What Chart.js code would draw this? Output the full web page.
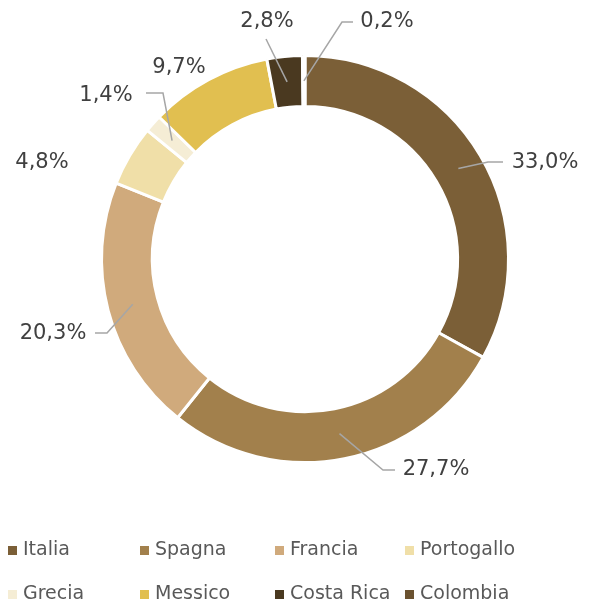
<!DOCTYPE html>
<html>
<head>
<meta charset="utf-8">
<script src="https://cdn.jsdelivr.net/npm/chart.js@4/dist/chart.umd.min.js"></script>
<style>
  html, body { margin: 0; padding: 0; background: #fff; }
  canvas { display: block; }
</style>
</head>
<body>
<canvas id="chart" width="605" height="605"></canvas>
<script>
// data
const countries = ["Italia", "Spagna", "Francia", "Portogallo", "Grecia", "Messico", "Costa Rica", "Colombia"];
const shares = [33.0, 27.7, 20.3, 4.8, 1.4, 9.7, 2.8, 0.2];
const colors = ["#7b5f37", "#a2804c", "#d0aa7c", "#f0dfa8", "#f5edd5", "#e1bf50", "#4a3920", "#6b5230"];

// where each percentage label sits, relative to the doughnut centre
// path = elbow points of the leader line (empty = no line)
const labelPlace = [
  { tx: 240, ty: -96, path: [[183, -97], [198, -97]] },
  { tx: 131, ty: 211, path: [[78, 211], [90, 211]] },
  { tx: -252, ty: 75, path: [[-198, 74], [-210, 74]] },
  { tx: -263, ty: -96, path: [] },
  { tx: -199, ty: -163, path: [[-142, -166], [-159, -166]] },
  { tx: -126, ty: -191, path: [] },
  { tx: -38, ty: -237, path: [[-39, -220]] },
  { tx: 82, ty: -237, path: [[37, -237], [48, -237]] },
];

// legend grid (Excel style, 4 per row)
const legendCols = [8, 140, 275, 405];
const legendRows = [550, 594];

const fmt = (v) => v.toFixed(1).replace(".", ",") + "%";

const labelsPlugin = {
  id: "outerLabels",
  afterDraw(chart) {
    const ctx = chart.ctx;
    const arcs = chart.getDatasetMeta(0).data;
    ctx.save();
    arcs.forEach((arc, i) => {
      const p = arc.getProps(["x", "y", "startAngle", "endAngle", "innerRadius", "outerRadius"], true);
      const mid = (p.startAngle + p.endAngle) / 2;
      const r = (p.innerRadius + p.outerRadius) / 2;
      const place = labelPlace[i];
      if (place.path.length) {
        ctx.beginPath();
        ctx.moveTo(p.x + Math.cos(mid) * r, p.y + Math.sin(mid) * r);
        place.path.forEach(([dx, dy]) => ctx.lineTo(p.x + dx, p.y + dy));
        ctx.strokeStyle = "#a6a6a6";
        ctx.lineWidth = 1.5;
        ctx.stroke();
      }
      ctx.fillStyle = "#404040";
      ctx.font = "21px 'DejaVu Sans'";
      ctx.textAlign = "center";
      ctx.textBaseline = "middle";
      ctx.fillText(fmt(shares[i]), p.x + place.tx, p.y + place.ty);
    });

    // legend
    ctx.font = "19px 'DejaVu Sans'";
    ctx.textAlign = "left";
    ctx.textBaseline = "middle";
    countries.forEach((name, i) => {
      const x = legendCols[i % 4];
      const y = legendRows[Math.floor(i / 4)];
      ctx.fillStyle = colors[i];
      ctx.fillRect(x, y - 4, 9, 9);
      ctx.fillStyle = "#595959";
      ctx.fillText(name, x + 15, y);
    });
    ctx.restore();
  },
};

new Chart(document.getElementById("chart"), {
  type: "doughnut",
  data: {
    labels: countries,
    datasets: [{
      data: shares,
      backgroundColor: colors,
      borderColor: "#ffffff",
      borderWidth: 3,
    }],
  },
  options: {
    responsive: false,
    animation: false,
    cutout: "75%",
    layout: { padding: { top: 54, bottom: 141, left: 100, right: 95 } },
    plugins: {
      legend: { display: false },
      tooltip: { enabled: false },
    },
  },
  plugins: [labelsPlugin],
});
</script>
</body>
</html>
